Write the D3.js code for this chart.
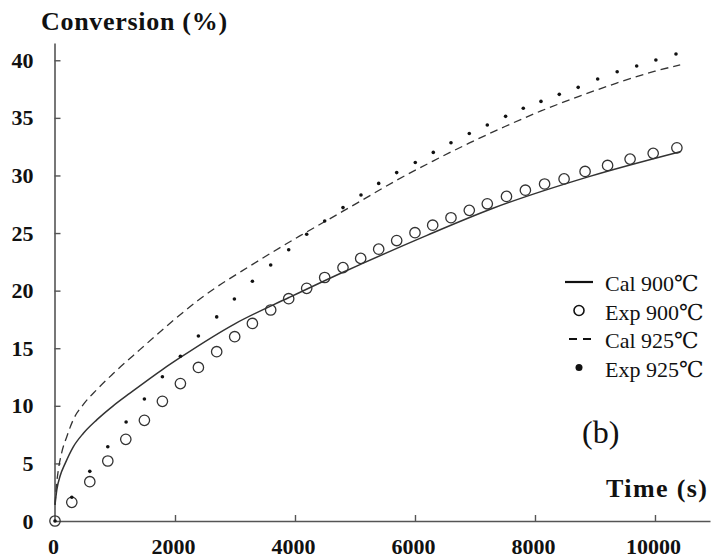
<!DOCTYPE html>
<html lang="en">
<head>
    <meta charset="UTF-8">
    <title>Conversion vs time</title>
    <script src="https://cdn.jsdelivr.net/npm/d3@7"></script>
    <style>
        body {
            margin: 0;
            background-color: #fff;
        }
    </style>
</head>
<body>
    <script>
        // tick labels
        const xTicks = [0, 2000, 4000, 6000, 8000, 10000];
        const yTicks = [0, 5, 10, 15, 20, 25, 30, 35, 40];

        // Exp 900°C (open circles)
        const exp900Time = [0, 280, 580, 880, 1180, 1490, 1790, 2090, 2390, 2695, 2995, 3290, 3595, 3895, 4195, 4495, 4800, 5095, 5395, 5695, 6000, 6295, 6600, 6905, 7205, 7525, 7840, 8160, 8485, 8835, 9210, 9585, 9970, 10365];
        const exp900Conv = [0, 1.62, 3.41, 5.21, 7.09, 8.74, 10.39, 11.93, 13.33, 14.70, 16.0, 17.15, 18.32, 19.30, 20.2, 21.14, 22.0, 22.8, 23.6, 24.35, 25.03, 25.68, 26.33, 26.97, 27.54, 28.18, 28.72, 29.26, 29.7, 30.35, 30.87, 31.42, 31.92, 32.40];

        // Exp 925°C (filled dots)
        const exp925Time = [0, 280, 580, 880, 1185, 1490, 1790, 2090, 2390, 2695, 2990, 3290, 3595, 3895, 4195, 4495, 4800, 5100, 5395, 5695, 6005, 6305, 6600, 6905, 7205, 7510, 7805, 8100, 8405, 8720, 9045, 9370, 9695, 10015, 10350];
        const exp925Conv = [0, 2.06, 4.31, 6.45, 8.59, 10.59, 12.53, 14.31, 16.06, 17.72, 19.27, 20.82, 22.22, 23.55, 24.9, 26.04, 27.21, 28.3, 29.31, 30.25, 31.13, 32.0, 32.84, 33.64, 34.38, 35.13, 35.83, 36.43, 37.04, 37.65, 38.37, 39.0, 39.5, 40.02, 40.54];

        // Cal 900°C (solid line)
        const cal900Time = [0, 30, 85, 170, 300, 470, 700, 970, 1250, 1790, 2090, 2990, 3900, 4800, 5100, 6200, 7300, 8900, 10420];
        const cal900Conv = [1.4, 2.7, 3.9, 5.0, 6.4, 7.6, 8.8, 10.0, 11.1, 13.15, 14.2, 17.1, 19.4, 21.6, 22.3, 24.8, 27.15, 29.9, 32.06];

        // Cal 925°C (dashed line)
        const cal925Time = [0, 17, 55, 110, 195, 305, 470, 695, 970, 1420, 1970, 2420, 3300, 4080, 4500, 4800, 5100, 5700, 6300, 6900, 7500, 8100, 8700, 9350, 10000, 10420];
        const cal925Conv = [1.4, 2.7, 4.4, 5.9, 7.3, 8.8, 10.1, 11.4, 12.8, 14.9, 17.4, 19.3, 22.3, 24.75, 26.0, 26.9, 27.8, 29.6, 31.25, 32.8, 34.25, 35.6, 36.8, 38.0, 39.05, 39.6];

        const legendItems = ['Cal 900℃', 'Exp 900℃', 'Cal 925℃', 'Exp 925℃'];

        const w = 719;
        const h = 560;
        const ink = '#333';
        const serif = '"Liberation Serif", "Times New Roman", "DejaVu Serif", serif';

        const zip = (ts, vs) => ts.map((t, i) => ({ t: t, v: vs[i] }));

        const svg = d3.select('body')
            .append('svg')
            .attr('width', w)
            .attr('height', h)
            .style('font-family', serif);

        const x = d3.scaleLinear([0, 10917], [55, 710]);
        const y = d3.scaleLinear([0, 41.5], [521, 43]);

        // axes, ticks pointing into the plot
        const xAxis = svg.append('g')
            .attr('transform', `translate(0, ${y(0)})`)
            .call(d3.axisBottom(x).tickValues(xTicks).tickFormat(d3.format('d'))
                .tickSize(-6).tickSizeOuter(0).tickPadding(17));

        const yAxis = svg.append('g')
            .attr('transform', `translate(${x(0) - 0.5}, 0)`)
            .call(d3.axisLeft(y).tickValues(yTicks).tickFormat(d3.format('d'))
                .tickSize(-6).tickSizeOuter(0).tickPadding(21));

        [xAxis, yAxis].forEach(g => {
            g.attr('font-family', null).attr('font-size', null);
            g.select('.domain').attr('stroke', '#555').attr('stroke-width', 1.6);
            g.selectAll('.tick line').attr('stroke', '#555').attr('stroke-width', 1.4);
            g.selectAll('.tick text')
                .attr('fill', '#111')
                .style('font-family', serif)
                .style('font-weight', 'bold')
                .style('font-size', '22px');
        });
        yAxis.selectAll('.tick').filter(d => d === 0).select('line').remove();
        xAxis.selectAll('.tick').filter(d => d === 0).select('line').remove();
        xAxis.selectAll('.tick text').attr('dx', '-2');

        const line = d3.line()
            .x(d => x(d.t))
            .y(d => y(d.v))
            .curve(d3.curveMonotoneX);

        svg.append('path')
            .datum(zip(cal900Time, cal900Conv))
            .attr('d', line)
            .attr('fill', 'none')
            .attr('stroke', ink)
            .attr('stroke-width', 1.5);

        svg.append('path')
            .datum(zip(cal925Time, cal925Conv))
            .attr('d', line)
            .attr('fill', 'none')
            .attr('stroke', ink)
            .attr('stroke-width', 1.3)
            .attr('stroke-dasharray', '8,5');

        svg.append('g')
            .selectAll('circle')
            .data(zip(exp900Time, exp900Conv))
            .join('circle')
            .attr('cx', d => x(d.t))
            .attr('cy', d => y(d.v))
            .attr('r', 5.2)
            .attr('fill', 'none')
            .attr('stroke', ink)
            .attr('stroke-width', 1.3);

        svg.append('g')
            .selectAll('circle')
            .data(zip(exp925Time, exp925Conv))
            .join('circle')
            .attr('cx', d => x(d.t))
            .attr('cy', d => y(d.v))
            .attr('r', 1.8)
            .attr('fill', '#111');

        const addText = (tx, ty, str, size, bold) => svg.append('text')
            .attr('x', tx)
            .attr('y', ty)
            .attr('fill', '#111')
            .style('font-family', serif)
            .style('font-size', size + 'px')
            .style('font-weight', bold ? 'bold' : 'normal')
            .text(str);

        // axis titles
        addText(41, 30, 'Conversion (%)', 26, true).style('letter-spacing', '0.7px');
        addText(606, 497, 'Time (s)', 26, true).style('letter-spacing', '1.4px');
        addText(582, 443, '(b)', 32, false);

        // legend
        const rowY = i => 282 + i * 28.5;

        legendItems.forEach((label, i) => addText(605, rowY(i) + 9, label, 22, false));

        svg.append('line')
            .attr('x1', 565).attr('x2', 593)
            .attr('y1', rowY(0)).attr('y2', rowY(0))
            .attr('stroke', '#111').attr('stroke-width', 2.2);

        svg.append('circle')
            .attr('cx', 579).attr('cy', rowY(1))
            .attr('r', 5).attr('fill', 'none')
            .attr('stroke', '#111').attr('stroke-width', 1.6);

        svg.append('line')
            .attr('x1', 569).attr('x2', 591)
            .attr('y1', rowY(2)).attr('y2', rowY(2))
            .attr('stroke', '#111').attr('stroke-width', 2.2)
            .attr('stroke-dasharray', '8,6');

        svg.append('circle')
            .attr('cx', 579).attr('cy', rowY(3))
            .attr('r', 3.5).attr('fill', '#111');
    </script>
</body>
</html>
